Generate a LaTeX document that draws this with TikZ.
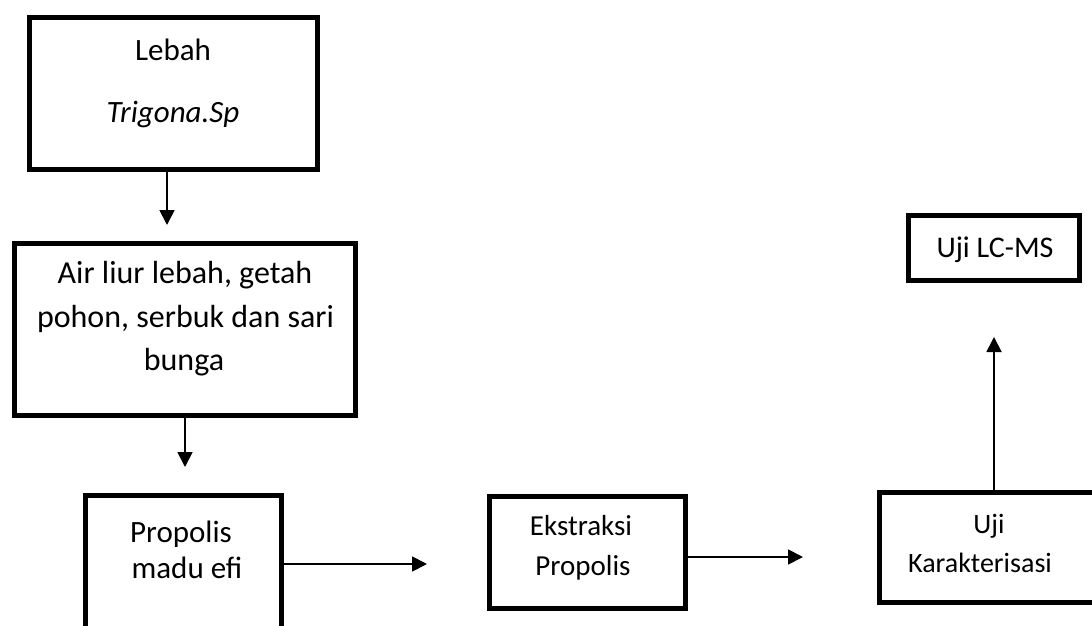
\documentclass[tikz,border=0pt]{standalone}
\usepackage{fontspec}
\setmainfont{Carlito}
\usetikzlibrary{arrows.meta}
\tikzset{
  box/.style={draw, line width=5pt, inner sep=0pt, outer sep=0pt},
  arr/.style={-{Triangle[length=15pt,width=15pt]}, line width=1.8pt},
  txt/.style={anchor=base, inner sep=0pt, outer sep=0pt},
}
\newcommand{\fs}[1]{\fontsize{#1}{#1}\selectfont}
\begin{document}
\begin{tikzpicture}[x=1pt, y=-1pt]
\clip (0,0) rectangle (1092,626);
\fill[white] (0,0) rectangle (1092,626);
% boxes
\node[box, minimum width=288pt, minimum height=152pt] (n1) at (173.5,93.5) {};
\node[box, minimum width=341pt, minimum height=172pt] (n2) at (184.5,329.5) {};
\node[box, minimum width=195.5pt, minimum height=205pt] (n3) at (183.25,597.5) {};
\node[box, minimum width=196pt, minimum height=112pt] (n4) at (587.5,552.5) {};
\node[box, minimum width=240.5pt, minimum height=110pt] (n5) at (999.75,547.5) {};
\node[box, minimum width=171pt, minimum height=65pt] (n6) at (994,248) {};
% texts
\node[txt, font=\fs{31}] (t1a) at (173,60) {Lebah};
\node[txt, font=\fs{31}\itshape] (t1b) at (173,122) {Trigona.Sp};
\node[txt, font=\fs{32}] (t2a) at (185,283) {Air liur lebah, getah};
\node[txt, font=\fs{32}] (t2b) at (185.5,327) {pohon, serbuk dan sari};
\node[txt, font=\fs{32}] (t2c) at (184,370) {bunga};
\node[txt, font=\fs{31}] (t3a) at (181,542) {Propolis};
\node[txt, font=\fs{31}] (t3b) at (187,578) {madu efi};
\node[txt, font=\fs{29}] (t4a) at (581,535) {Ekstraksi};
\node[txt, font=\fs{29}] (t4b) at (583,575) {Propolis};
\node[txt, font=\fs{28}] (t5a) at (989,533) {Uji};
\node[txt, font=\fs{28}] (t5b) at (980,572) {Karakterisasi};
\node[txt, font=\fs{30}] (t6) at (995,257) {Uji LC-MS};
% arrow ends
\coordinate (c1) at (167,225);
\coordinate (c2) at (185,467);
\coordinate (c3) at (427,564);
\coordinate (c4) at (803,557);
\coordinate (c5) at (994,337);
% arrows
\draw[arr] (n1.south -| c1) -- (c1);
\draw[arr] (n2.south -| c2) -- (c2);
\draw[arr] (n3.east |- c3) -- (c3);
\draw[arr] (n4.east |- c4) -- (c4);
\draw[arr] (n5.north -| c5) -- (c5);
\end{tikzpicture}
\end{document}
